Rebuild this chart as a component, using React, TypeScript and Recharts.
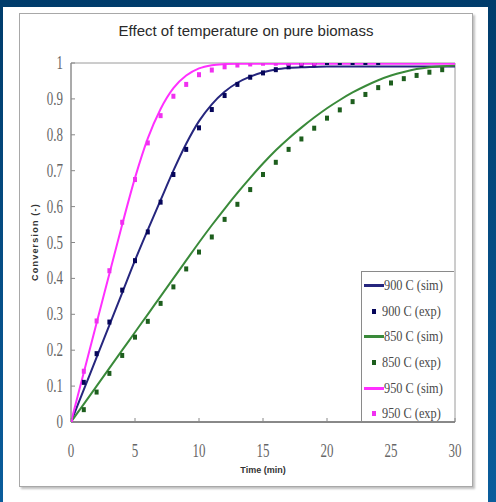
import React from 'react';
import { LineChart, Line, XAxis, YAxis, ReferenceArea } from 'recharts';

const TIME_SIM = [0, 1, 2, 3, 4, 5, 6, 7, 8, 9, 10, 11, 12, 13, 14, 15, 16, 17, 18, 19, 20, 21, 22, 23, 24, 25, 26, 27, 28, 29, 30];
const SIM_900 = [0, 0.09, 0.18, 0.27, 0.36, 0.45, 0.535, 0.618, 0.7, 0.775, 0.838, 0.885, 0.92, 0.945, 0.962, 0.974, 0.982, 0.986, 0.988, 0.989, 0.99, 0.99, 0.99, 0.99, 0.99, 0.99, 0.99, 0.99, 0.99, 0.99, 0.99];
const SIM_850 = [0, 0.05, 0.1, 0.15, 0.2, 0.25, 0.3, 0.35, 0.4, 0.45, 0.5, 0.548, 0.594, 0.638, 0.68, 0.72, 0.757, 0.79, 0.82, 0.848, 0.874, 0.897, 0.918, 0.936, 0.952, 0.965, 0.975, 0.983, 0.988, 0.991, 0.993];
const SIM_950 = [0, 0.138, 0.276, 0.413, 0.55, 0.68, 0.79, 0.872, 0.93, 0.965, 0.985, 0.994, 0.997, 0.998, 0.998, 0.998, 0.998, 0.998, 0.998, 0.998, 0.998, 0.998, 0.998, 0.998, 0.998, 0.998, 0.998, 0.998, 0.998, 0.998, 0.998];

const TIME_EXP_900 = [0, 1, 2, 3, 4, 5, 6, 7, 8, 9, 10, 11, 12, 13, 14, 15, 16, 17, 18, 19, 20, 21, 22, 23, 24];
const EXP_900 = [0, 0.109, 0.189, 0.277, 0.366, 0.448, 0.528, 0.611, 0.688, 0.758, 0.818, 0.869, 0.908, 0.939, 0.959, 0.971, 0.98, 0.988, 0.993, 0.996, 1.0, 1.0, 1.0, 1.0, 1.0];
const TIME_EXP_850 = [0, 1, 2, 3, 4, 5, 6, 7, 8, 9, 10, 11, 12, 13, 14, 15, 16, 17, 18, 19, 20, 21, 22, 23, 24, 25, 26, 27, 28, 29];
const EXP_850 = [0, 0.033, 0.082, 0.134, 0.184, 0.235, 0.279, 0.329, 0.375, 0.425, 0.472, 0.514, 0.563, 0.605, 0.646, 0.688, 0.722, 0.758, 0.787, 0.817, 0.845, 0.868, 0.891, 0.911, 0.93, 0.943, 0.955, 0.964, 0.973, 0.98];
const TIME_EXP_950 = [0, 1, 2, 3, 4, 5, 6, 7, 8, 9, 10, 11, 12, 13, 14, 15, 16, 17, 18, 19];
const EXP_950 = [0, 0.14, 0.28, 0.42, 0.555, 0.674, 0.776, 0.852, 0.906, 0.939, 0.966, 0.979, 0.988, 0.993, 0.996, 0.998, 0.998, 0.998, 0.998, 0.998];

const X_TICKS = [0, 5, 10, 15, 20, 25, 30];
const Y_TICKS = [0, 0.1, 0.2, 0.3, 0.4, 0.5, 0.6, 0.7, 0.8, 0.9, 1];

const TITLE = 'Effect of temperature on pure biomass';
const X_TITLE = 'Time (min)';
const Y_TITLE = 'Conversion (-)';

const NAVY = '#26267e';
const NAVY_DOT = '#06065a';
const GREEN = '#3a8a3a';
const GREEN_DOT = '#1d5e1d';
const MAGENTA = '#ff30ff';
const MAGENTA_DOT = '#f030f0';

const toPoints = (times: number[], values: number[]) => times.map((t, i) => ({ t, v: values[i] }));

const SERIES = [
  { name: '900 C (sim)', kind: 'sim', color: NAVY, data: toPoints(TIME_SIM, SIM_900) },
  { name: '900 C (exp)', kind: 'exp', color: NAVY_DOT, data: toPoints(TIME_EXP_900, EXP_900) },
  { name: '850 C (sim)', kind: 'sim', color: GREEN, data: toPoints(TIME_SIM, SIM_850) },
  { name: '850 C (exp)', kind: 'exp', color: GREEN_DOT, data: toPoints(TIME_EXP_850, EXP_850) },
  { name: '950 C (sim)', kind: 'sim', color: MAGENTA, data: toPoints(TIME_SIM, SIM_950) },
  { name: '950 C (exp)', kind: 'exp', color: MAGENTA_DOT, data: toPoints(TIME_EXP_950, EXP_950) },
];

const fmtY = (v: number) => (v === 0 ? '0' : v === 1 ? '1' : v.toFixed(1));

const XTick = (props: any) => {
  const { x, y, payload } = props;
  return (
    <text
      transform={`translate(${x},${y + 12}) scale(0.72,1)`}
      textAnchor="middle"
      fontSize={18}
      fontFamily="'Liberation Serif', serif"
      fill="#666"
    >
      {payload.value}
    </text>
  );
};

const YTick = (props: any) => {
  const { x, y, payload } = props;
  return (
    <text
      transform={`translate(${x},${y + 6}) scale(0.72,1)`}
      textAnchor="end"
      fontSize={18}
      fontFamily="'Liberation Serif', serif"
      fill="#666"
    >
      {fmtY(payload.value)}
    </text>
  );
};

const makeSquare = (color: string) => (props: any) => {
  const { cx, cy, index } = props;
  if (cx == null || cy == null) return <g key={index} />;
  return <rect key={index} x={cx - 2} y={cy - 3} width={4} height={5} fill={color} />;
};

export default function App() {
  const W = 496;
  const H = 502;
  return (
    <div
      style={{
        position: 'absolute',
        left: 0,
        top: 0,
        width: W,
        height: H,
        background: 'linear-gradient(#003c6b, #0a5d9c)',
        overflow: 'hidden',
      }}
    >
      <div style={{ position: 'absolute', left: 3, top: 7, width: 485, height: 495, background: '#ffffff' }} />
      <div
        style={{
          position: 'absolute',
          left: 19,
          top: 13,
          width: 452,
          height: 472,
          border: '1px solid #a8a8a8',
          boxShadow: '2px 2px 2px #c0c0c0',
          background: '#ffffff',
        }}
      />
      <div
        style={{
          position: 'absolute',
          left: 0,
          top: 22,
          width: 492,
          textAlign: 'center',
          fontFamily: "'Liberation Sans', Arial, sans-serif",
          fontSize: 15,
          color: '#2a2a2a',
        }}
      >
        {TITLE}
      </div>
      <div
        style={{
          position: 'absolute',
          left: 35 - 60,
          top: 242 - 7,
          width: 120,
          height: 14,
          lineHeight: '14px',
          textAlign: 'center',
          transform: 'rotate(-90deg)',
          fontFamily: "'Liberation Sans', Arial, sans-serif",
          fontSize: 9,
          fontWeight: 'bold',
          letterSpacing: 1.2,
          color: '#333',
        }}
      >
        {Y_TITLE}
      </div>
      <div
        style={{
          position: 'absolute',
          left: 263 - 50,
          top: 465,
          width: 100,
          textAlign: 'center',
          fontFamily: "'Liberation Sans', Arial, sans-serif",
          fontSize: 9,
          fontWeight: 'bold',
          color: '#333',
        }}
      >
        {X_TITLE}
      </div>
      <div style={{ position: 'absolute', left: 0, top: 0 }}>
        <LineChart width={W} height={H} margin={{ top: 63, right: 41, bottom: 40, left: 31 }}>
          <ReferenceArea x1={0} x2={30} y1={0} y2={1} fill="none" stroke="#9a9a9a" strokeWidth={1} />
          <XAxis
            type="number"
            dataKey="t"
            domain={[0, 30]}
            ticks={X_TICKS}
            interval={0}
            allowDataOverflow
            height={40}
            tickSize={-4}
            tickMargin={27}
            tickLine={{ stroke: '#888' }}
            axisLine={{ stroke: '#444' }}
            tick={<XTick />}
          />
          <YAxis
            type="number"
            dataKey="v"
            domain={[0, 1]}
            ticks={Y_TICKS}
            interval={0}
            allowDataOverflow
            width={40}
            tickSize={-4}
            tickMargin={12}
            tickLine={{ stroke: '#888' }}
            axisLine={{ stroke: '#888' }}
            tick={<YTick />}
          />
          {SERIES.filter((s) => s.kind === 'sim').map((s) => (
            <Line
              key={s.name}
              data={s.data}
              dataKey="v"
              name={s.name}
              type="monotone"
              stroke={s.color}
              strokeWidth={2}
              dot={false}
              activeDot={false}
              isAnimationActive={false}
            />
          ))}
          {SERIES.filter((s) => s.kind === 'exp').map((s) => (
            <Line
              key={s.name}
              data={s.data}
              dataKey="v"
              name={s.name}
              stroke="none"
              dot={makeSquare(s.color)}
              activeDot={false}
              isAnimationActive={false}
            />
          ))}
        </LineChart>
      </div>
      <div
        style={{
          position: 'absolute',
          left: 361,
          top: 271,
          width: 93,
          height: 150,
          border: '1px solid #8a8a8a',
          borderRight: 'none',
          borderBottom: 'none',
          background: '#ffffff',
          paddingTop: 1,
          boxSizing: 'border-box',
        }}
      >
        {SERIES.map((s) => (
          <div key={s.name} style={{ height: 25.6, display: 'flex', alignItems: 'center', position: 'relative' }}>
            <div style={{ width: 24, display: 'flex', justifyContent: 'center', alignItems: 'center' }}>
              {s.kind === 'sim' ? (
                <div style={{ width: 20, height: 3, background: s.color, marginLeft: 2 }} />
              ) : (
                <div style={{ width: 4, height: 5, background: s.color, marginLeft: 4 }} />
              )}
            </div>
            <span
              style={{
                fontFamily: "'Liberation Serif', serif",
                fontSize: 15,
                color: '#4a4a4a',
                display: 'inline-block',
                transform: 'scale(0.82,1)',
                transformOrigin: 'left center',
                whiteSpace: 'nowrap',
              }}
            >
              {s.name}
            </span>
          </div>
        ))}
      </div>
    </div>
  );
}
